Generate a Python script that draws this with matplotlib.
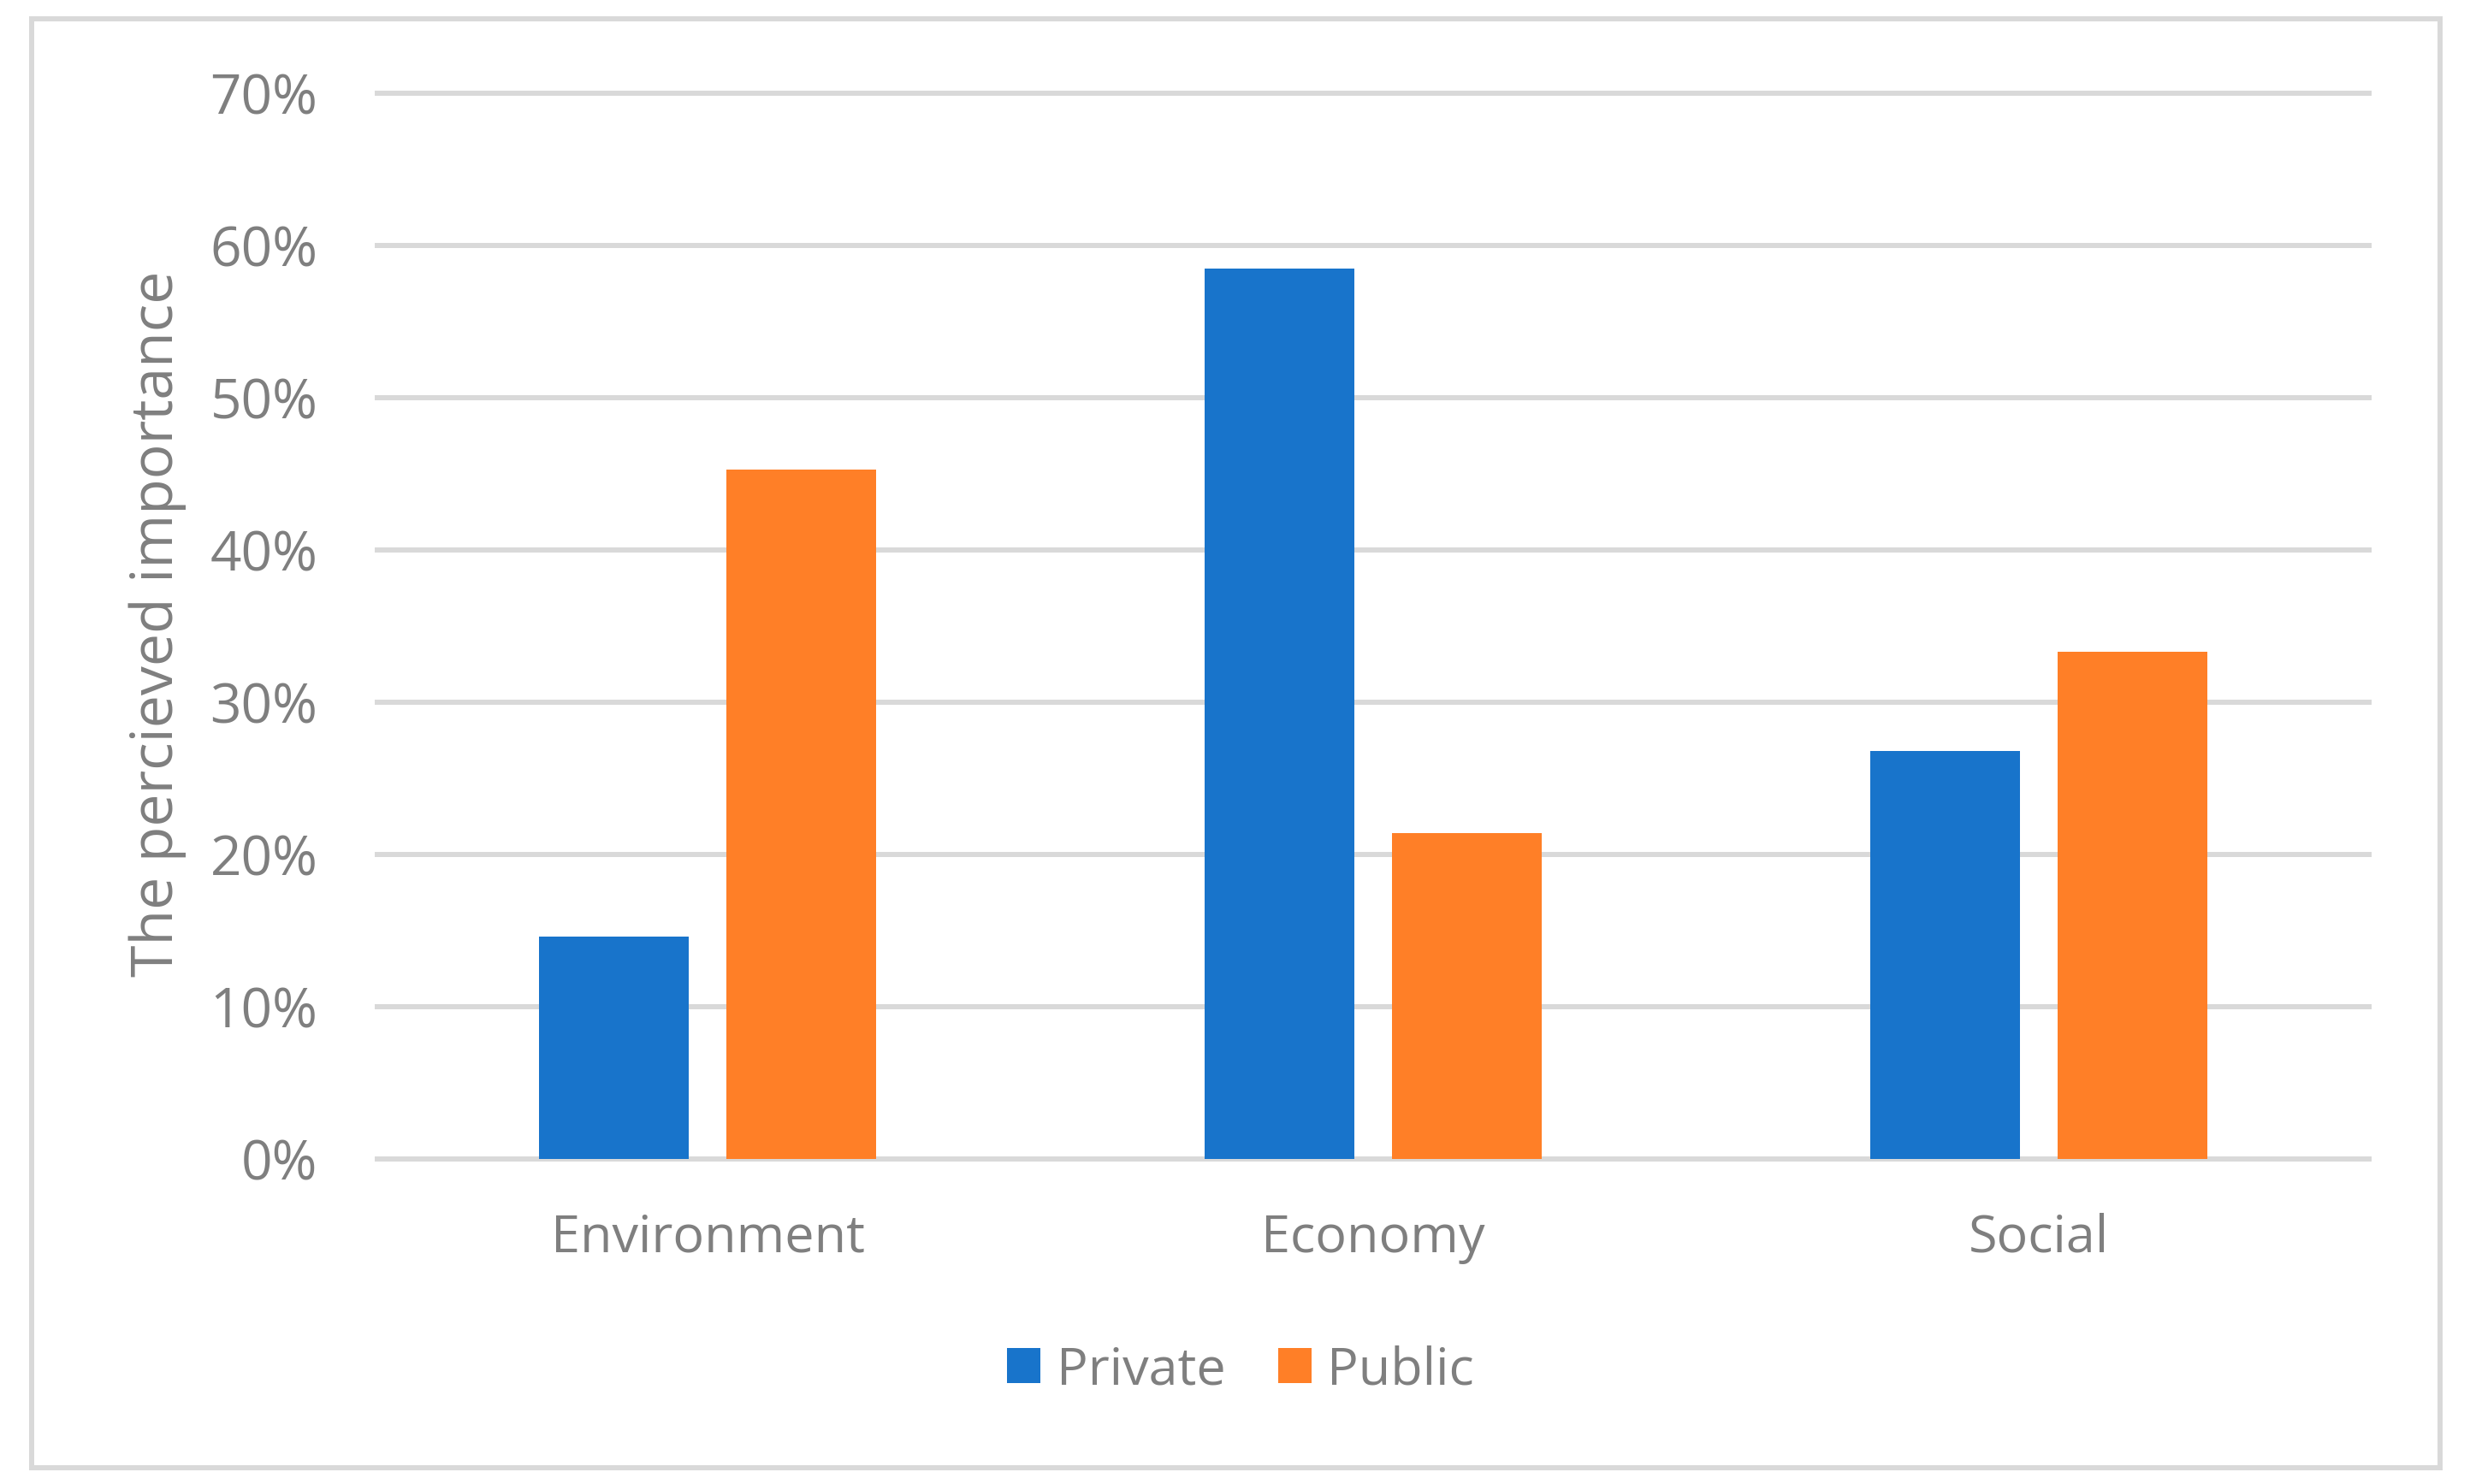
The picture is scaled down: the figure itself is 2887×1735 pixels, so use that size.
import matplotlib
matplotlib.use("Agg")
import matplotlib.pyplot as plt
import numpy as np
from matplotlib.patches import Rectangle, Patch
from matplotlib.ticker import FuncFormatter

categories = ["Environment", "Economy", "Social"]
series_names = ["Private", "Public"]
private_vals = [0.146, 0.585, 0.268]
public_vals = [0.453, 0.214, 0.333]
yticks = [0.0, 0.1, 0.2, 0.3, 0.4, 0.5, 0.6, 0.7]
ylabel = "The percieved importance"

colors = ["#1874CB", "#FF7F27"]
gray = "#7F7F7F"
gridc = "#D9D9D9"

plt.rcParams['font.family'] = ['Open Sans', 'DejaVu Sans']

W, H = 2887, 1735
fig = plt.figure(figsize=(W / 100, H / 100), dpi=100)
fig.patch.set_facecolor("white")

# outer frame
fig.patches.append(Rectangle((37 / W, 1 - 1716 / H), (2852 - 37) / W, (1716 - 22) / H,
                             transform=fig.transFigure, fill=False, edgecolor=gridc,
                             linewidth=4.3, zorder=0))

ax = fig.add_axes([438 / W, 1 - 1355 / H, (2772 - 438) / W, (1355 - 109) / H])
ax.set_xlim(-0.5, 2.5)
ax.set_ylim(0, 0.7)
for s in ax.spines.values():
    s.set_visible(False)

x = np.arange(len(categories))
bw = 0.225
off = 0.141
ax.hlines(yticks, -0.5, 2.5, colors=gridc, linewidth=4.3, zorder=1, clip_on=False)
ax.bar(x - off, private_vals, bw, color=colors[0], zorder=2, label=series_names[0])
ax.bar(x + off, public_vals, bw, color=colors[1], zorder=2, label=series_names[1])

ax.set_yticks(yticks)
ax.yaxis.set_major_formatter(FuncFormatter(lambda v, p: f"{v*100:.0f}%"))
ax.set_xticks(x)
ax.set_xticklabels(categories)
ax.tick_params(axis='both', length=0, labelcolor=gray)
ax.tick_params(axis='y', pad=48, labelsize=46)
ax.tick_params(axis='x', pad=45, labelsize=44)

fig.text(184 / W, 1 - 729 / H, ylabel, rotation=90, ha='center', va='center',
         fontsize=49, color=gray)

handles = [Patch(facecolor=colors[0]), Patch(facecolor=colors[1])]
leg = fig.legend(handles, series_names, loc='center', bbox_to_anchor=(1450 / W, 1 - 1602 / H),
                 ncol=2, frameon=False, fontsize=44, handlelength=0.64, handleheight=0.64,
                 handletextpad=0.3, columnspacing=1.0)
for t in leg.get_texts():
    t.set_color(gray)

fig.savefig("out.png", dpi=100, facecolor="white")
